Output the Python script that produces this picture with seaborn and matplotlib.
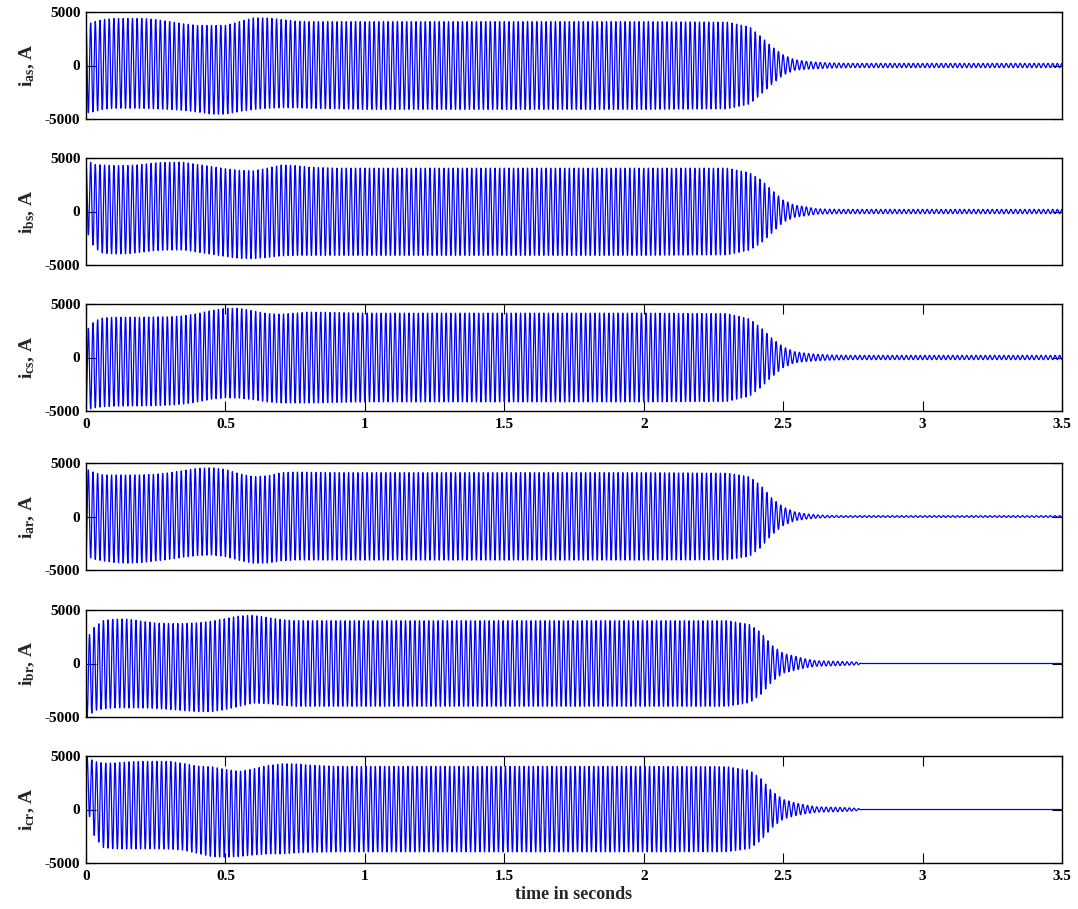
import numpy as np
import pandas as pd
import matplotlib
matplotlib.use("Agg")
import matplotlib.pyplot as plt
import seaborn as sns

# ---------------- data ----------------
freq_hz = 60.0                      # supply frequency of the oscillation
t_end = 3.5

# envelope knot times (s)
t_knots = [0, 0.01, 0.03, 0.06, 0.1, 0.15, 0.2, 0.25, 0.3, 0.35, 0.4, 0.45,
           0.5, 0.55, 0.6, 0.65, 0.7, 0.75, 0.8, 0.9, 1.0, 1.5, 2.0, 2.3,
           2.38, 2.42, 2.46, 2.5, 2.54, 2.58, 2.62, 2.66, 2.7, 2.74, 2.77,
           2.78, 3.0, 3.5]

# upper / lower envelopes (A) for each current
ias_up = [3800, 3900, 4100, 4300, 4400, 4400, 4400, 4300, 4100, 3900, 3750, 3750,
          3750, 4100, 4450, 4450, 4300, 4150, 4100, 4100, 4100, 4100, 4100, 4050,
          3600, 2700, 1750, 1000, 550, 400, 300, 250, 220, 200, 200,
          200, 200, 200]
ias_lo = [-4400, -4400, -4300, -4100, -4000, -4000, -4000, -4050, -4100, -4200, -4350, -4550,
          -4550, -4300, -4100, -4000, -3950, -3950, -4000, -4050, -4100, -4100, -4100, -4050,
          -3600, -2700, -1750, -900, -450, -350, -300, -250, -220, -200, -200,
          -200, -200, -200]

ibs_up = [4800, 4700, 4400, 4350, 4300, 4300, 4400, 4550, 4600, 4600, 4400, 4200,
          4000, 3850, 3800, 4050, 4350, 4300, 4150, 4050, 4050, 4050, 4050, 4050,
          3600, 2970, 2000, 1070, 600, 450, 250, 220, 200, 200, 200,
          200, 200, 200]
ibs_lo = [-1500, -2300, -3400, -3900, -3970, -3950, -3800, -3650, -3600, -3600, -3800, -4000,
          -4200, -4380, -4400, -4300, -4150, -4100, -4100, -4100, -4100, -4100, -4100, -4050,
          -3600, -2970, -2000, -1000, -550, -400, -250, -220, -200, -200, -200,
          -200, -200, -200]

ics_up = [2300, 2800, 3400, 3700, 3770, 3770, 3770, 3800, 3800, 3900, 4100, 4400,
          4600, 4600, 4350, 4100, 4050, 4150, 4250, 4200, 4150, 4150, 4150, 4100,
          3600, 2800, 1800, 1000, 550, 400, 300, 250, 220, 200, 200,
          200, 200, 200]
ics_lo = [-4900, -4850, -4700, -4600, -4550, -4530, -4530, -4500, -4450, -4350, -4150, -3900,
          -3770, -3800, -3950, -4150, -4250, -4250, -4250, -4200, -4150, -4150, -4150, -4100,
          -3600, -2800, -1800, -950, -500, -380, -300, -250, -220, -200, -200,
          -200, -200, -200]

iar_up = [4350, 4350, 4100, 3900, 3880, 3880, 3900, 3950, 4100, 4300, 4500, 4560,
          4400, 4000, 3720, 3800, 4100, 4150, 4130, 4100, 4100, 4100, 4100, 4050,
          3700, 2900, 1700, 900, 450, 250, 150, 100, 90, 80, 80,
          80, 80, 80]
iar_lo = [-3600, -3800, -4000, -4150, -4300, -4370, -4300, -4150, -4000, -3800, -3650, -3600,
          -3750, -4100, -4370, -4350, -4150, -4070, -4070, -4080, -4080, -4080, -4080, -4050,
          -3700, -2900, -1700, -850, -400, -250, -150, -100, -90, -80, -80,
          -80, -80, -80]

ibr_up = [2000, 2600, 3400, 4000, 4150, 4150, 3950, 3780, 3740, 3740, 3800, 3950,
          4200, 4450, 4500, 4300, 4100, 4000, 4000, 4000, 4000, 4000, 4000, 4000,
          3650, 2900, 1700, 950, 700, 430, 250, 230, 200, 150, 120,
          0, 0, 0]
ibr_lo = [-5000, -4900, -4400, -4250, -4150, -4150, -4150, -4200, -4300, -4400, -4500, -4500,
          -4300, -4000, -3700, -3750, -3900, -4000, -4000, -4000, -4000, -4000, -4000, -4000,
          -3650, -2900, -1700, -900, -650, -400, -250, -230, -200, -150, -120,
          0, 0, 0]

icr_up = [4900, 4800, 4500, 4340, 4340, 4450, 4500, 4500, 4500, 4300, 4050, 4000,
          3750, 3560, 3800, 4100, 4270, 4270, 4150, 4030, 4030, 4030, 4030, 4000,
          3650, 2900, 1700, 950, 650, 420, 250, 220, 200, 150, 100,
          0, 0, 0]
icr_lo = [0, -400, -2500, -3550, -3680, -3680, -3680, -3680, -3700, -3800, -4100, -4400,
          -4460, -4400, -4250, -4150, -4150, -4050, -4000, -3960, -3960, -3960, -3960, -3950,
          -3650, -2900, -1700, -900, -600, -400, -250, -220, -200, -150, -100,
          0, 0, 0]

phases = [0.0, 0.0, np.pi, np.pi, np.pi / 2, -np.pi / 2]   # start of each trace

labels = [r"$\mathbf{i_{as}}$, A", r"$\mathbf{i_{bs}}$, A", r"$\mathbf{i_{cs}}$, A",
          r"$\mathbf{i_{ar}}$, A", r"$\mathbf{i_{br}}$, A", r"$\mathbf{i_{cr}}$, A"]
x_ticks = [0, 0.5, 1, 1.5, 2, 2.5, 3, 3.5]
x_tick_labels = ["0", "0.5", "1", "1.5", "2", "2.5", "3", "3.5"]
y_ticks = [-5000, 0, 5000]
y_tick_labels = ["-5000", "0", "5000"]
x_label = "time in seconds"

envelopes = [(ias_up, ias_lo), (ibs_up, ibs_lo), (ics_up, ics_lo),
             (iar_up, iar_lo), (ibr_up, ibr_lo), (icr_up, icr_lo)]

# ---------------- style ----------------
sns.set_theme(style="white")
plt.rcParams["font.family"] = ["Liberation Serif", "DejaVu Serif"]
plt.rcParams["font.weight"] = "bold"
plt.rcParams["mathtext.fontset"] = "custom"
plt.rcParams["mathtext.bf"] = "Liberation Serif:bold"
plt.rcParams["mathtext.rm"] = "Liberation Serif:bold"
plt.rcParams["mathtext.it"] = "Liberation Serif:bold"

W, H = 1078, 909
fig = plt.figure(figsize=(W / 100, H / 100), dpi=100)

# panel pixel extents (top, bottom)
panel_px = [(12, 119), (158, 265), (304, 411), (463, 570), (610, 717), (756, 863)]
left_px, right_px = 86, 1062

t = np.arange(0, t_end + 1e-9, 1e-4)

for i, ((up, lo), (top, bot)) in enumerate(zip(envelopes, panel_px)):
    ax = fig.add_axes([left_px / W, 1 - bot / H, (right_px - left_px) / W, (bot - top) / H])
    up_t = np.interp(t, t_knots, up)
    lo_t = np.interp(t, t_knots, lo)
    mid = (up_t + lo_t) / 2
    amp = (up_t - lo_t) / 2
    y = mid + amp * np.cos(2 * np.pi * freq_hz * t + phases[i])
    df = pd.DataFrame({"t": t, "i": y})
    sns.lineplot(data=df, x="t", y="i", ax=ax, color="#0000ff", lw=0.9,
                 estimator=None, sort=False)
    ax.set_xlim(0, t_end)
    ax.set_ylim(-5000, 5000)
    ax.set_yticks(y_ticks)
    ax.set_yticklabels(y_tick_labels, fontsize=11, fontweight="bold")
    ax.set_ylabel(labels[i], fontsize=14, fontweight="bold", labelpad=6)
    ax.tick_params(axis="y", direction="in", length=7, width=0.8, left=True, right=True,
                   pad=4, colors="black")
    if i in (2, 5):
        ax.set_xticks(x_ticks)
        ax.set_xticklabels(x_tick_labels, fontsize=11, fontweight="bold")
        ax.tick_params(axis="x", direction="in", length=7, width=0.8, bottom=True,
                       top=True, pad=5, colors="black")
    else:
        ax.set_xticks([])
    if i == 5:
        ax.set_xlabel(x_label, fontsize=13, fontweight="bold", labelpad=2)
    else:
        ax.set_xlabel("")
    for s in ax.spines.values():
        s.set_color("black")
        s.set_linewidth(1.0)

fig.savefig("out.png", dpi=100, facecolor="white")
